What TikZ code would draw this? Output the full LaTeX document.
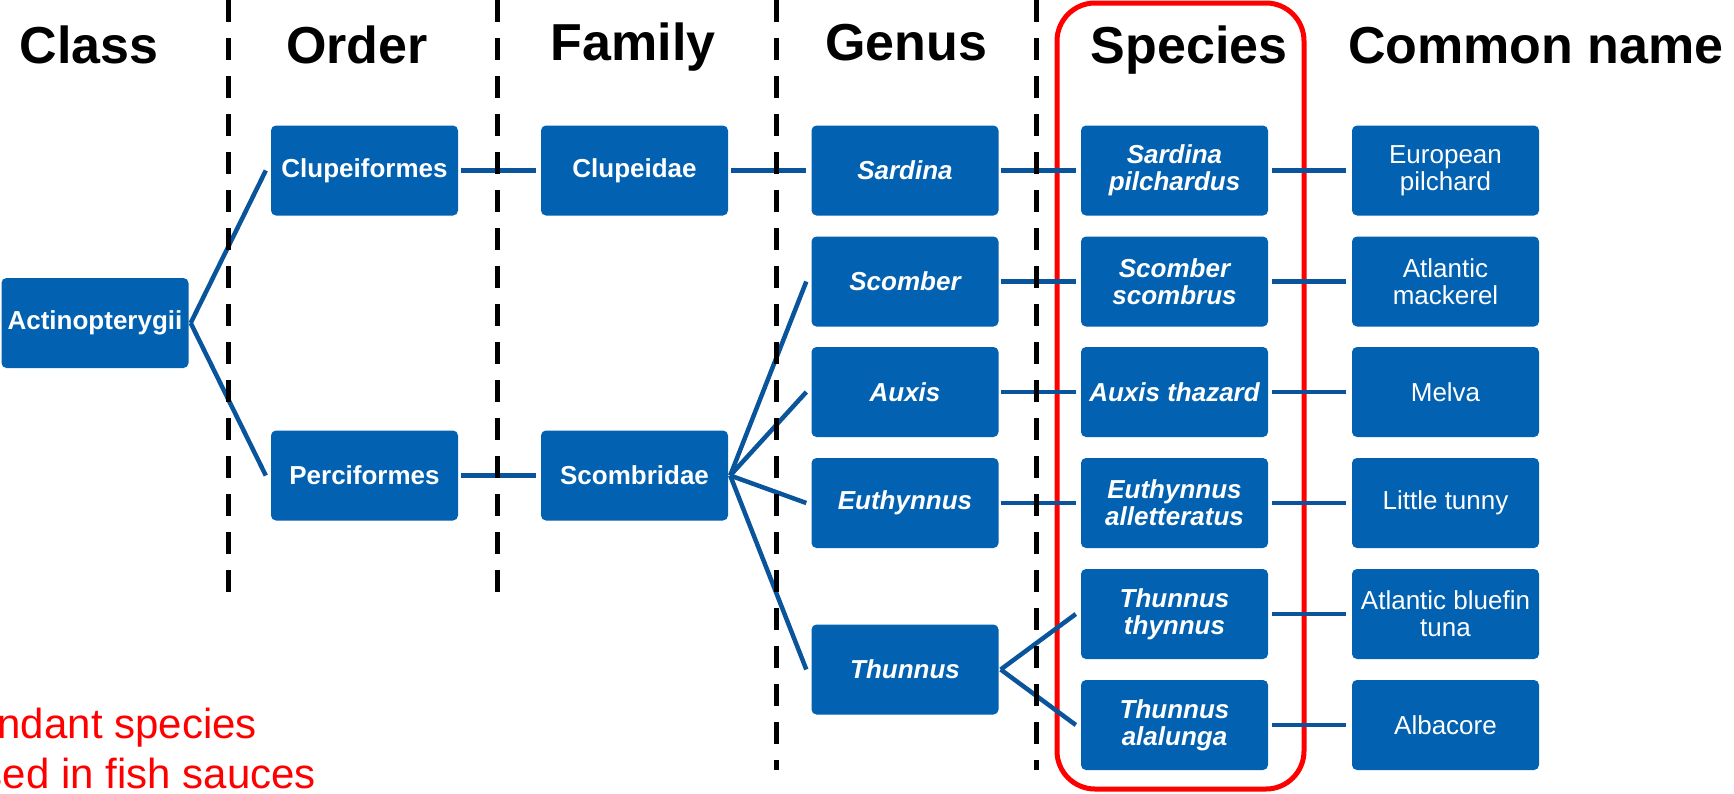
\documentclass[tikz,border=0pt]{standalone}
\usepackage{fontspec}
\setmainfont{Liberation Sans}
\definecolor{boxblue}{RGB}{2,97,176}
\definecolor{linkblue}{RGB}{10,84,155}
\newcommand\bxfont{\fontsize{26}{27}\selectfont\bfseries}
\newcommand\hdfont{\fontsize{52}{56}\selectfont\bfseries}
\newcommand\cmfont{\fontsize{26}{27}\selectfont}
\newcommand\rdfont{\fontsize{42}{48}\selectfont}
\begin{document}
\begin{tikzpicture}[x=1pt,y=-1pt,
  box/.style={fill=boxblue, rounded corners=5pt, minimum width=187pt, minimum height=90pt, inner sep=0pt, text=white, align=center, font=\bxfont},
  gen/.style={box, font=\bxfont\itshape},
  com/.style={box, font=\cmfont},
  head/.style={anchor=base, font=\hdfont, inner sep=0pt},
  link/.style={draw=linkblue, line width=4.5pt},
  divider/.style={draw=black, line width=5pt, dash pattern=on 22pt off 16pt},
  note/.style={anchor=base east, text=red, font=\rdfont, inner sep=0pt},
]
\useasboundingbox (0,0) rectangle (1734,793);
\clip (0,0) rectangle (1734,793);

% headers
\node[head] (hclass) at (89,63) {Class};
\node[head] (horder) at (357,63) {Order};
\node[head] (hfam) at (633,60) {Family};
\node[head] (hgen) at (906,60) {Genus};
\node[head] (hspe) at (1189,63) {Species};
\node[head] (hcom) at (1536,63) {Common name};

% red frame
\draw[red, line width=5pt, rounded corners=38pt] (1057,3) rectangle (1304,789);

% boxes
\node[box] (act) at (95,323) {Actinopterygii};
\node[box] (clf) at (364.5,170.5) {Clupeiformes};
\node[box] (pcf) at (364.5,475.5) {Perciformes};
\node[box] (clp) at (634.5,170.5) {Clupeidae};
\node[box] (scb) at (634.5,475.5) {Scombridae};
\node[gen] (sar) at (905,170.5) {Sardina};
\node[gen] (sco) at (905,281.5) {Scomber};
\node[gen] (aux) at (905,392) {Auxis};
\node[gen] (eut) at (905,503) {Euthynnus};
\node[gen] (thu) at (905,669.5) {Thunnus};
\node[gen] (s1) at (1174.5,170.5) {Sardina\\pilchardus};
\node[gen] (s2) at (1174.5,281.5) {Scomber\\scombrus};
\node[gen] (s3) at (1174.5,392) {Auxis thazard};
\node[gen] (s4) at (1174.5,503) {Euthynnus\\alletteratus};
\node[gen] (s5) at (1174.5,614) {Thunnus\\thynnus};
\node[gen] (s6) at (1174.5,725) {Thunnus\\alalunga};
\node[com] (c1) at (1445.5,170.5) {European\\pilchard};
\node[com] (c2) at (1445.5,281.5) {Atlantic\\mackerel};
\node[com] (c3) at (1445.5,392) {Melva};
\node[com] (c4) at (1445.5,503) {Little tunny};
\node[com] (c5) at (1445.5,614) {Atlantic bluefin\\tuna};
\node[com] (c6) at (1445.5,725) {Albacore};

% connectors
\draw[link] ([xshift=2pt]act.east) -- ([xshift=-5pt]clf.west);
\draw[link] ([xshift=2pt]act.east) -- ([xshift=-5pt]pcf.west);
\draw[link] ([xshift=3pt]clf.east) -- ([xshift=-5pt]clp.west);
\draw[link] ([xshift=3pt]pcf.east) -- ([xshift=-5pt]scb.west);
\draw[link] ([xshift=3pt]clp.east) -- ([xshift=-5pt]sar.west);
\draw[link] ([xshift=2pt]scb.east) -- ([xshift=-5pt]sco.west);
\draw[link] ([xshift=2pt]scb.east) -- ([xshift=-5pt]aux.west);
\draw[link] ([xshift=2pt]scb.east) -- ([xshift=-5pt]eut.west);
\draw[link] ([xshift=2pt]scb.east) -- ([xshift=-5pt]thu.west);
\draw[link] ([xshift=2pt]thu.east) -- ([xshift=-5pt]s5.west);
\draw[link] ([xshift=2pt]thu.east) -- ([xshift=-5pt]s6.west);
\foreach \g/\s in {sar/s1,sco/s2,aux/s3,eut/s4}
  \draw[link] ([xshift=2pt]\g.east) -- ([xshift=-5pt]\s.west);
\foreach \s/\c in {s1/c1,s2/c2,s3/c3,s4/c4,s5/c5,s6/c6}
  \draw[link] ([xshift=4pt]\s.east) -- ([xshift=-6pt]\c.west);

% dividers
\draw[divider] (228,0) -- (228,593);
\draw[divider] (497.5,0) -- (497.5,593);
\draw[divider] (776,0) -- (776,770);
\draw[divider] (1036,0) -- (1036,770);

% red note (clipped at the left edge, as in the reference)
\node[note] (n1) at (257,738) {Abundant species};
\node[note] (n2) at (316,788) {used in fish sauces};
\end{tikzpicture}
\end{document}
